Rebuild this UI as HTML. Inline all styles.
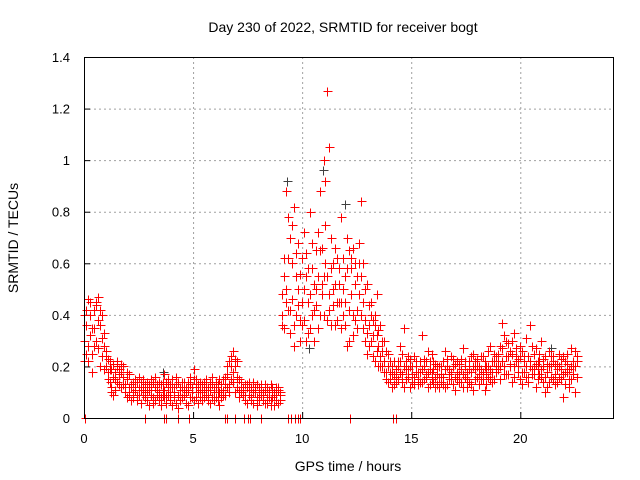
<!DOCTYPE html>
<html><head><meta charset="utf-8"><style>
body{margin:0;background:#fff;}
svg{display:block;font-family:"Liberation Sans",sans-serif;}
</style></head><body>
<svg id="chart" width="640" height="480"></svg>
<script>
const xTicks=[0,5,10,15,20];
const xTickLabels=["0","5","10","15","20"];
const yTicks=[0,0.2,0.4,0.6,0.8,1,1.2,1.4];
const yTickLabels=["0","0.2","0.4","0.6","0.8","1","1.2","1.4"];
const redTimes=[0,0.09,0.18,0.27,0.36,0.45,0.54,0.63,0.72,0.81,0.90,
0.99,1.08,1.17,1.26,1.35,1.44,1.53,1.62,1.71,1.80,
1.89,1.98,2.07,2.16,2.25,2.34,2.43,2.52,2.61,2.70,
2.79,2.88,2.97,3.06,3.15,3.24,3.33,3.42,3.51,3.60,
3.69,3.78,3.87,3.96,4.05,4.14,4.23,4.32,4.41,4.50,
4.59,4.68,4.77,4.86,4.95,5.04,5.13,5.22,5.31,5.40,
5.49,5.58,5.67,5.76,5.85,5.94,6.03,6.12,6.21,6.30,
6.39,6.48,6.57,6.66,6.75,6.84,6.93,7.02,7.11,7.20,
7.29,7.38,7.47,7.56,7.65,7.74,7.83,7.92,8.01,8.10,
8.19,8.28,8.37,8.46,8.55,8.64,8.73,8.82,8.91,9.00,
9.09,9.18,9.27,9.36,9.45,9.54,9.63,9.72,9.81,9.90,
9.99,10.08,10.17,10.26,10.35,10.44,10.53,10.62,10.71,10.80,
10.89,10.98,11.07,11.16,11.25,11.34,11.43,11.52,11.61,11.70,
11.79,11.88,11.97,12.06,12.15,12.24,12.33,12.42,12.51,12.60,
12.69,12.78,12.87,12.96,13.05,13.14,13.23,13.32,13.41,13.50,
13.59,13.68,13.77,13.86,13.95,14.04,14.13,14.22,14.31,14.40,
14.49,14.58,14.67,14.76,14.85,14.94,15.03,15.12,15.21,15.30,
15.39,15.48,15.57,15.66,15.75,15.84,15.93,16.02,16.11,16.20,
16.29,16.38,16.47,16.56,16.65,16.74,16.83,16.92,17.01,17.10,
17.19,17.28,17.37,17.46,17.55,17.64,17.73,17.82,17.91,18.00,
18.09,18.18,18.27,18.36,18.45,18.54,18.63,18.72,18.81,18.90,
18.99,19.08,19.17,19.26,19.35,19.44,19.53,19.62,19.71,19.80,
19.89,19.98,20.07,20.16,20.25,20.34,20.43,20.52,20.61,20.70,
20.79,20.88,20.97,21.06,21.15,21.24,21.33,21.42,21.51,21.60,
21.69,21.78,21.87,21.96,22.05,22.14,22.23,22.32,22.41,22.50,22.59];
const redValues=[0.30,0.42,0.22,0.45,0.35,0.28,0.44,0.38,0.20,0.40,0.33,
0.26,0.18,0.22,0.12,0.09,0.15,0.20,0.17,0.21,0.13,
0.10,0.15,0.12,0.07,0.14,0.11,0.09,0.16,0.06,0.12,
0.10,0.14,0.05,0.12,0.08,0.16,0.11,0.07,0.13,0.09,
0.17,0.06,0.12,0.10,0.15,0.08,0.13,0.04,0.11,0.14,
0.09,0.12,0.05,0.16,0.10,0.19,0.08,0.13,0.11,0.07,
0.14,0.09,0.12,0.06,0.16,0.10,0.08,0.13,0.05,0.11,
0.15,0.09,0.20,0.13,0.24,0.18,0.10,0.22,0.08,0.12,
0.09,0.13,0.06,0.11,0.08,0.14,0.10,0.05,0.12,0.09,
0.07,0.11,0.06,0.10,0.13,0.08,0.05,0.09,0.12,0.07,
0.48,0.35,0.88,0.62,0.42,0.75,0.28,0.55,0.68,0.38,
0.45,0.72,0.30,0.58,0.80,0.40,0.52,0.65,0.35,0.88,
0.48,1.00,0.60,1.27,0.42,0.70,0.50,0.36,0.62,0.45,
0.78,0.40,0.55,0.28,0.65,0.48,0.32,0.60,0.42,0.68,
0.84,0.35,0.50,0.25,0.44,0.30,0.38,0.22,0.48,0.28,
0.36,0.20,0.30,0.15,0.25,0.18,0.12,0.22,0.16,0.20,
0.28,0.14,0.35,0.19,0.24,0.12,0.20,0.16,0.22,0.13,
0.18,0.32,0.15,0.22,0.12,0.19,0.25,0.14,0.21,0.17,
0.12,0.20,0.16,0.26,0.13,0.19,0.15,0.23,0.11,0.18,
0.21,0.14,0.27,0.16,0.12,0.22,0.18,0.25,0.15,0.20,
0.13,0.19,0.24,0.11,0.20,0.16,0.28,0.14,0.22,0.18,
0.25,0.15,0.37,0.20,0.30,0.17,0.26,0.14,0.33,0.22,
0.18,0.28,0.13,0.24,0.20,0.16,0.36,0.19,0.25,0.12,
0.22,0.17,0.30,0.14,0.10,0.21,0.26,0.16,0.24,0.13,
0.19,0.25,0.15,0.08,0.22,0.18,0.12,0.27,0.20,0.10,0.24];
const redValuesB=[0.40,0.25,0.46,0.32,0.18,0.42,0.30,0.47,0.36,0.24,0.28,
0.20,0.23,0.14,0.19,0.16,0.11,0.22,0.13,0.18,0.20,
0.13,0.08,0.17,0.12,0.10,0.15,0.07,0.12,0.14,0.09,
0.13,0.07,0.11,0.15,0.06,0.12,0.09,0.14,0.05,0.11,
0.08,0.14,0.09,0.13,0.05,0.12,0.16,0.09,0.07,0.12,
0.14,0.06,0.11,0.13,0.08,0.15,0.12,0.06,0.14,0.10,
0.08,0.15,0.07,0.11,0.13,0.07,0.12,0.10,0.15,0.08,
0.11,0.16,0.12,0.22,0.15,0.26,0.20,0.12,0.15,0.10,
0.12,0.07,0.13,0.09,0.12,0.06,0.11,0.13,0.07,0.11,
0.10,0.06,0.12,0.08,0.05,0.11,0.09,0.12,0.06,0.10,
0.36,0.55,0.45,0.78,0.33,0.60,0.82,0.40,0.50,0.30,
0.62,0.38,0.55,0.45,0.35,0.68,0.42,0.50,0.72,0.40,
0.66,0.55,0.92,0.38,1.05,0.58,0.44,0.66,0.38,0.52,
0.45,0.62,0.36,0.70,0.42,0.58,0.66,0.38,0.55,0.48,
0.40,0.60,0.30,0.52,0.36,0.45,0.24,0.40,0.32,0.20,
0.24,0.30,0.18,0.26,0.14,0.22,0.17,0.13,0.19,0.15,
0.18,0.25,0.12,0.22,0.16,0.20,0.14,0.24,0.18,0.15,
0.22,0.14,0.20,0.17,0.26,0.13,0.18,0.22,0.12,0.20,
0.16,0.14,0.22,0.12,0.20,0.17,0.24,0.13,0.21,0.15,
0.17,0.23,0.12,0.20,0.18,0.14,0.24,0.11,0.19,0.23,
0.17,0.24,0.15,0.20,0.13,0.26,0.19,0.22,0.15,0.24,
0.19,0.28,0.22,0.32,0.17,0.24,0.20,0.30,0.16,0.27,
0.23,0.15,0.26,0.18,0.31,0.14,0.22,0.17,0.20,0.27,
0.15,0.25,0.19,0.23,0.16,0.12,0.20,0.24,0.15,0.21,
0.14,0.20,0.23,0.17,0.13,0.25,0.19,0.15,0.22,0.26,0.16];
const redValuesC=[0.22,0.36,0.28,0.40,0.25,0.35,0.45,0.27,0.42,0.31,0.19,
0.24,0.15,0.19,0.10,0.21,0.18,0.14,0.19,0.12,0.16,
0.12,0.18,0.09,0.13,0.08,0.12,0.14,0.09,0.11,0.15,
0.08,0.11,0.13,0.09,0.14,0.07,0.13,0.10,0.08,0.14,
0.11,0.09,0.15,0.07,0.12,0.10,0.06,0.14,0.12,0.08,
0.12,0.10,0.14,0.08,0.12,0.07,0.15,0.10,0.08,0.13,
0.11,0.12,0.09,0.14,0.08,0.12,0.14,0.07,0.10,0.13,
0.09,0.13,0.17,0.10,0.20,0.14,0.23,0.16,0.11,0.14,
0.11,0.09,0.12,0.14,0.07,0.10,0.12,0.08,0.10,0.13,
0.09,0.13,0.08,0.11,0.07,0.12,0.10,0.07,0.11,0.09,
0.40,0.62,0.50,0.42,0.70,0.46,0.36,0.64,0.44,0.56,
0.36,0.50,0.64,0.33,0.48,0.58,0.30,0.44,0.55,0.65,
0.52,0.40,0.75,0.55,0.48,0.36,0.60,0.52,0.45,0.58,
0.35,0.50,0.45,0.58,0.30,0.62,0.40,0.52,0.35,0.60,
0.55,0.45,0.38,0.33,0.28,0.40,0.32,0.36,0.26,0.34,
0.20,0.26,0.22,0.18,0.20,0.15,0.20,0.17,0.14,0.22,
0.22,0.17,0.20,0.15,0.19,0.23,0.17,0.13,0.20,0.18,
0.14,0.19,0.23,0.16,0.18,0.22,0.15,0.19,0.16,0.13,
0.20,0.17,0.13,0.19,0.23,0.15,0.18,0.20,0.16,0.22,
0.14,0.19,0.17,0.22,0.15,0.19,0.13,0.20,0.22,0.16,
0.20,0.15,0.18,0.22,0.17,0.20,0.15,0.18,0.25,0.20,
0.22,0.20,0.27,0.17,0.24,0.29,0.21,0.25,0.20,0.24,
0.20,0.24,0.18,0.22,0.16,0.24,0.20,0.28,0.17,0.21,
0.19,0.22,0.16,0.20,0.24,0.18,0.14,0.20,0.22,0.17,
0.21,0.16,0.19,0.24,0.18,0.21,0.15,0.20,0.17,0.20,0.22];
const zeroTimes=[0.05,2.8,3.65,3.75,4.3,4.8,6.45,6.55,6.9,7.35,7.5,7.6,8.1,9.35,9.5,9.65,9.8,9.9,12.2,14.15,14.3];
const grayTimes=[3.6,9.3,9.9,10.3,10.95,11.95,21.4];
const grayValues=[0.18,0.92,0.30,0.27,0.96,0.83,0.27];

const NS="http://www.w3.org/2000/svg";
const svg=document.getElementById('chart');
const L=84,R=613,T=57,B=418,XMAX=24.25,YMAX=1.4;
function xs(v){return L+(R-L)*v/XMAX;}
function ys(v){return B-(B-T)*v/YMAX;}
function mk(tag,attrs,parent){const e=document.createElementNS(NS,tag);for(const k in attrs)e.setAttribute(k,attrs[k]);(parent||svg).appendChild(e);return e;}

const grid=mk('g',{stroke:'#a0a0a0','stroke-width':1,'stroke-dasharray':'2,3'});


xTicks.forEach(function(t,i){
  if(t>0) mk('line',{x1:xs(t)+0.5,x2:xs(t)+0.5,y1:T,y2:B},grid);
  const tk=mk('line',{x1:xs(t)+0.5,x2:xs(t)+0.5,y1:B,y2:B-6,stroke:'#000'});
  
  
  const tx=mk('text',{x:xs(t),y:443,'text-anchor':'middle','font-size':13,fill:'#000'});
  tx.textContent=xTickLabels[i];
  
  
});
yTicks.forEach(function(t,i){
  if(t>0&&t<YMAX) mk('line',{x1:L,x2:R,y1:ys(t)+0.5,y2:ys(t)+0.5},grid);
  const tk=mk('line',{x1:L,x2:L+6,y1:ys(t)+0.5,y2:ys(t)+0.5,stroke:'#000'});
  
  
  const tx=mk('text',{x:70,y:ys(t)+5,'text-anchor':'end','font-size':13,fill:'#000'});
  tx.textContent=yTickLabels[i];
  
  
});

function plus(g,t,v){
  const x=Math.round(xs(t))+0.5,y=Math.round(ys(v))+0.5;
  const p=mk('path',{d:'M'+(x-4)+' '+y+'H'+(x+5)+'M'+x+' '+(y-4)+'V'+(y+5)},g);
  
  
}
const gg=mk('g',{stroke:'#404040','stroke-width':1,fill:'none','shape-rendering':'crispEdges'});


grayTimes.forEach(function(t,i){plus(gg,t,grayValues[i]);});
const rg=mk('g',{stroke:'#ff0000','stroke-width':1,fill:'none','shape-rendering':'crispEdges'});


redTimes.forEach(function(t,i){plus(rg,t,redValues[i]);});
redTimes.forEach(function(t,i){plus(rg,t,redValuesB[i]);});
redTimes.forEach(function(t,i){plus(rg,t,redValuesC[i]);});
zeroTimes.forEach(function(t){plus(rg,t,0);});

const frame=mk('rect',{x:L+0.5,y:T+0.5,width:R-L,height:B-T,fill:'none',stroke:'#000','stroke-width':1});



const title=mk('text',{x:343,y:32,'text-anchor':'middle','font-size':14,fill:'#000'});
title.textContent='Day 230 of 2022, SRMTID for receiver bogt';


const xl=mk('text',{x:348,y:471,'text-anchor':'middle','font-size':14,fill:'#000'});
xl.textContent='GPS time / hours';


const yl=mk('text',{x:0,y:0,'text-anchor':'middle','font-size':14,fill:'#000',transform:'translate(18,238) rotate(-90)'});
yl.textContent='SRMTID / TECUs';


</script>
</body></html>
